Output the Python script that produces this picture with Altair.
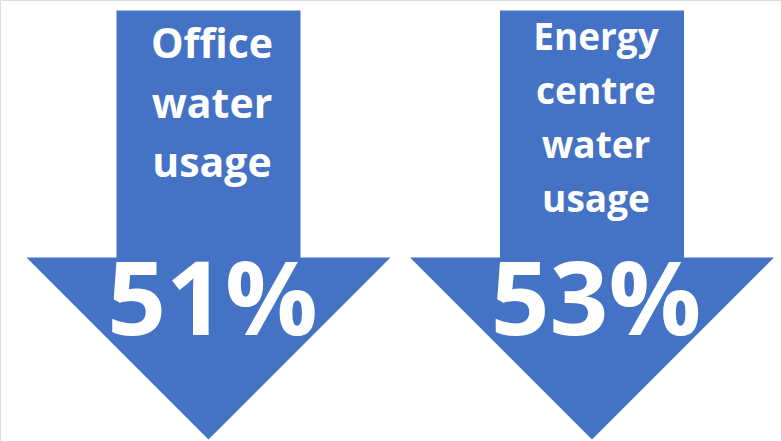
import altair as alt
import pandas as pd

categories = ["Office", "Energy centre"]
labels = ["Office\nwater\nusage", "Energy\ncentre\nwater\nusage"]
values = [51, 53]
value_labels = ["51%", "53%"]

df = pd.DataFrame({
    "cat": categories,
    "label": labels,
    "value": values,
    "pct": value_labels,
})

BLUE = "#4472C4"
W, H = 781, 441
FONT = "Open Sans"

xs = alt.Scale(type="point", domain=categories, range=[208.5, 592], padding=0)
ys = alt.Scale(domain=[0, H], range=[0, H])

# arrow symbol drawn in pixel units (size=4 -> scale factor 1)
arrow_path = "M-92,-214 L92,-214 L92,33 L182,33 L0,215 L-182,33 L-92,33 Z"

base = alt.Chart(df).encode(x=alt.X("cat:N", scale=xs, axis=None))

arrows = base.mark_point(
    shape=arrow_path, filled=True, fill=BLUE, opacity=1, strokeWidth=0
).encode(y=alt.Y("y:Q", scale=ys, axis=None), size=alt.value(4)).transform_calculate(y="224.5")

left_title = base.transform_filter(alt.datum.cat == "Office").mark_text(
    font=FONT, fontWeight="bold", fontSize=41, color="white",
    align="center", baseline="alphabetic", lineBreak="\n", lineHeight=59.5, dx=3.5
).encode(y=alt.Y("y:Q", scale=ys, axis=None), text="label:N").transform_calculate(y="58")

right_title = base.transform_filter(alt.datum.cat == "Energy centre").mark_text(
    font=FONT, fontWeight="bold", fontSize=37, color="white",
    align="center", baseline="alphabetic", lineBreak="\n", lineHeight=54, dx=4
).encode(y=alt.Y("y:Q", scale=ys, axis=None), text="label:N").transform_calculate(y="50")

pct = base.mark_text(
    font=FONT, fontWeight="bold", fontSize=103, color="white",
    align="center", baseline="alphabetic", dx=4
).encode(y=alt.Y("y:Q", scale=ys, axis=None), text="pct:N").transform_calculate(y="335")

chart = alt.layer(arrows, left_title, right_title, pct).properties(
    width=W, height=H, padding=0, autosize=alt.AutoSizeParams(type="none")
).configure_view(stroke=None).configure(background="white")

chart.save("out.html", embed_options={"renderer": "svg", "actions": False})
